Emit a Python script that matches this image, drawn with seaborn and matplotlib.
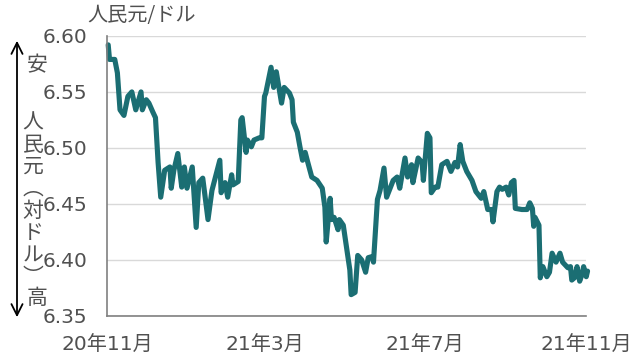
import pandas as pd
import matplotlib.pyplot as plt
import seaborn as sns

# 人民元の対ドル相場（チャートから読み取った値）
dates = [
    "2020-11-02", "2020-11-03", "2020-11-07", "2020-11-09", "2020-11-11", "2020-11-14",
    "2020-11-17", "2020-11-20", "2020-11-23", "2020-11-27", "2020-11-28", "2020-12-01",
    "2020-12-03", "2020-12-06", "2020-12-08", "2020-12-10", "2020-12-12", "2020-12-15",
    "2020-12-19", "2020-12-20", "2020-12-22", "2020-12-25", "2020-12-28", "2020-12-30",
    "2021-01-01", "2021-01-05", "2021-01-08", "2021-01-10", "2021-01-13", "2021-01-17",
    "2021-01-20", "2021-01-26", "2021-01-27", "2021-01-30", "2021-02-01", "2021-02-04",
    "2021-02-05", "2021-02-09", "2021-02-11", "2021-02-12", "2021-02-15", "2021-02-16",
    "2021-02-19", "2021-02-21", "2021-02-25", "2021-02-27", "2021-03-01", "2021-03-02",
    "2021-03-06", "2021-03-08", "2021-03-10", "2021-03-12", "2021-03-14", "2021-03-16",
    "2021-03-20", "2021-03-22", "2021-03-23", "2021-03-26", "2021-03-28", "2021-03-30",
    "2021-04-01", "2021-04-03", "2021-04-06", "2021-04-10", "2021-04-14", "2021-04-16",
    "2021-04-17", "2021-04-20", "2021-04-21", "2021-04-23", "2021-04-26", "2021-04-27",
    "2021-04-30", "2021-05-02", "2021-05-05", "2021-05-06", "2021-05-09", "2021-05-11",
    "2021-05-14", "2021-05-17", "2021-05-19", "2021-05-22", "2021-05-23", "2021-05-26",
    "2021-05-28", "2021-05-31", "2021-06-02", "2021-06-07", "2021-06-10", "2021-06-12",
    "2021-06-16", "2021-06-18", "2021-06-21", "2021-06-22", "2021-06-26", "2021-06-29",
    "2021-06-30", "2021-07-03", "2021-07-05", "2021-07-06", "2021-07-09", "2021-07-11",
    "2021-07-14", "2021-07-18", "2021-07-21", "2021-07-24", "2021-07-26", "2021-07-28",
    "2021-07-30", "2021-08-02", "2021-08-06", "2021-08-09", "2021-08-13", "2021-08-15",
    "2021-08-18", "2021-08-21", "2021-08-22", "2021-08-25", "2021-08-27", "2021-08-29",
    "2021-09-01", "2021-09-03", "2021-09-05", "2021-09-07", "2021-09-08", "2021-09-13",
    "2021-09-17", "2021-09-19", "2021-09-21", "2021-09-22", "2021-09-23", "2021-09-26",
    "2021-09-27", "2021-09-29", "2021-10-02", "2021-10-04", "2021-10-06", "2021-10-09",
    "2021-10-12", "2021-10-14", "2021-10-18", "2021-10-20", "2021-10-21", "2021-10-23",
    "2021-10-25", "2021-10-27", "2021-10-29", "2021-10-30", "2021-11-01", "2021-11-02",
]
rates = [
    6.592, 6.579, 6.579, 6.567, 6.534, 6.529,
    6.546, 6.550, 6.534, 6.550, 6.534, 6.543,
    6.540, 6.532, 6.527, 6.487, 6.456, 6.480,
    6.483, 6.464, 6.480, 6.495, 6.465, 6.483,
    6.464, 6.483, 6.429, 6.469, 6.473, 6.436,
    6.462, 6.489, 6.460, 6.469, 6.456, 6.476,
    6.467, 6.470, 6.525, 6.527, 6.496, 6.507,
    6.501, 6.507, 6.509, 6.509, 6.546, 6.549,
    6.572, 6.554, 6.568, 6.554, 6.540, 6.554,
    6.549, 6.543, 6.523, 6.514, 6.501, 6.489,
    6.496, 6.487, 6.474, 6.471, 6.464, 6.447,
    6.416, 6.455, 6.436, 6.438, 6.427, 6.436,
    6.431, 6.415, 6.391, 6.369, 6.371, 6.404,
    6.400, 6.389, 6.402, 6.403, 6.398, 6.454,
    6.462, 6.482, 6.456, 6.471, 6.474, 6.464,
    6.491, 6.474, 6.485, 6.469, 6.491, 6.487,
    6.471, 6.513, 6.509, 6.460, 6.465, 6.465,
    6.485, 6.488, 6.479, 6.487, 6.483, 6.503,
    6.488, 6.479, 6.471, 6.461, 6.455, 6.461,
    6.445, 6.445, 6.434, 6.461, 6.465, 6.463,
    6.465, 6.458, 6.469, 6.471, 6.446, 6.445,
    6.445, 6.451, 6.446, 6.430, 6.438, 6.431,
    6.384, 6.394, 6.385, 6.389, 6.406, 6.398,
    6.406, 6.398, 6.393, 6.394, 6.382, 6.384,
    6.394, 6.381, 6.388, 6.394, 6.385, 6.390,
]

tick_dates = ["2020-11-01", "2021-03-01", "2021-07-01", "2021-11-01"]
tick_labels = ["20年11月", "21年3月", "21年7月", "21年11月"]
y_ticks = [6.35, 6.40, 6.45, 6.50, 6.55, 6.60]

df = pd.DataFrame({"date": pd.to_datetime(dates), "rate": rates})

sns.set_style("white")
# 数字は幅の広い DejaVu、漢字・かなは Noto Sans CJK JP にフォールバック
plt.rcParams["font.family"] = ["DejaVu Sans", "Noto Sans CJK JP"]
CJK = ["Noto Sans CJK JP", "DejaVu Sans"]

TEXT = "#505050"
LINE = "#1b6e73"

fig = plt.figure(figsize=(6.4, 3.59), dpi=100)
ax = fig.add_axes([0.167, 0.12, 0.749, 0.78])

sns.lineplot(data=df, x="date", y="rate", color=LINE, linewidth=3.7, ax=ax,
             clip_on=False, solid_joinstyle="round")

ax.set_xlim(pd.Timestamp("2020-11-01"), pd.Timestamp("2021-11-01"))
ax.set_ylim(6.35, 6.60)
ax.set_yticks(y_ticks)
ax.set_yticklabels([f"{v:.2f}" for v in y_ticks])
ax.set_xticks(pd.to_datetime(tick_dates))
ax.set_xticklabels(tick_labels)
ax.set_xlabel("")
ax.set_ylabel("")

ax.grid(axis="y", color="#d9d9d9", linewidth=1.0)
ax.grid(axis="x", visible=False)
ax.set_axisbelow(True)
for s in ["top", "right"]:
    ax.spines[s].set_visible(False)
for s in ["left", "bottom"]:
    ax.spines[s].set_color("#808080")
    ax.spines[s].set_linewidth(1.2)

ax.tick_params(axis="y", direction="in", length=4, color="#808080", pad=14,
               labelsize=14.5, labelcolor=TEXT)
ax.tick_params(axis="x", direction="in", length=6, color="#808080", pad=14,
               labelsize=14.5, labelcolor=TEXT)

# 単位
fig.text(87 / 640, 1 - 15 / 359, "人民元/ドル", fontsize=14.5, color=TEXT,
         ha="left", va="center", family=CJK)

# 左側の矢印と縦書きラベル
ax.annotate("", xy=(17, 359 - 38), xytext=(17, 359 - 320),
            xycoords="figure pixels", textcoords="figure pixels",
            arrowprops=dict(arrowstyle="<->", color="black", lw=1.3,
                            mutation_scale=20))
fig.text(37 / 640, 1 - 65 / 359, "安", fontsize=15, color=TEXT,
         ha="center", va="center", family=CJK)
fig.text(33 / 640, 1 - 200 / 359, "\n".join("人民元︵対ドル︶"), fontsize=15,
         color=TEXT, ha="center", va="center", linespacing=1.0, family=CJK)
fig.text(37 / 640, 1 - 298 / 359, "高", fontsize=15, color=TEXT,
         ha="center", va="center", family=CJK)

plt.savefig("out.png", dpi=100)
